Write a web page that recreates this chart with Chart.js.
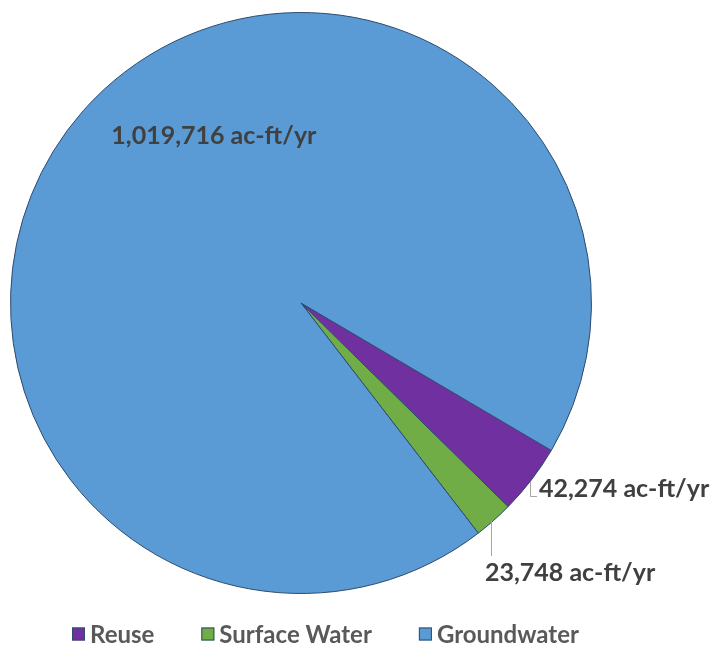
<!DOCTYPE html>
<html>
<head>
<meta charset="utf-8">
<script src="https://cdn.jsdelivr.net/npm/chart.js@4"></script>
<style>
  html, body { margin: 0; padding: 0; background: #ffffff; }
  canvas { display: block; }
</style>
</head>
<body>
<canvas id="chart" width="714" height="647"></canvas>
<script>
// Water supply by source (acre-feet per year)
const categories = ['Reuse', 'Surface Water', 'Groundwater'];
const supplyAcFtYr = [42274, 23748, 1019716];
const sliceColors = ['#7030A0', '#70AD47', '#5B9BD5'];
const sliceBorder = '#2E4A6E';

const fmt = v => String(v).replace(/\B(?=(\d{3})+(?!\d))/g, ',') + ' ac-ft/yr';

const LABEL_FONT = 'bold 25px Lato, "Open Sans", sans-serif';
const LEGEND_FONT = 'bold 24px Lato, "Open Sans", sans-serif';

// Value labels: small slices get a leader line from the rim, the big one sits inside.
const valueLabelPlugin = {
  id: 'valueLabels',
  afterDatasetsDraw(chart) {
    const ctx = chart.ctx;
    const arcs = chart.getDatasetMeta(0).data;
    ctx.save();
    ctx.font = LABEL_FONT;
    ctx.fillStyle = '#404040';
    ctx.textBaseline = 'middle';
    ctx.textAlign = 'left';
    ctx.strokeStyle = '#A6A6A6';
    ctx.lineWidth = 1;
    arcs.forEach((arc, i) => {
      const { x, y, startAngle, endAngle, outerRadius } = arc.getProps(['x', 'y', 'startAngle', 'endAngle', 'outerRadius'], true);
      const mid = (startAngle + endAngle) / 2;
      const px = Math.round(x + outerRadius * Math.cos(mid));
      const py = Math.round(y + outerRadius * Math.sin(mid));
      const text = fmt(supplyAcFtYr[i]);
      if (i === 0) {
        ctx.beginPath();
        ctx.moveTo(px - 0.5, py + 2);
        ctx.lineTo(px - 0.5, py + 16.5);
        ctx.lineTo(px + 6, py + 16.5);
        ctx.stroke();
        ctx.fillText(text, px + 8, py + 9);
      } else if (i === 1) {
        ctx.beginPath();
        ctx.moveTo(px - 2.5, py + 1);
        ctx.lineTo(px - 2.5, py + 36);
        ctx.stroke();
        ctx.fillText(text, px - 9, py + 53);
      } else {
        ctx.fillText(text, x - 0.653 * outerRadius, y - 0.575 * outerRadius);
      }
    });
    ctx.restore();
  }
};

// Legend row under the pie
const legendRowPlugin = {
  id: 'legendRow',
  afterDraw(chart) {
    const ctx = chart.ctx;
    const box = 13, gap = 5, spacing = 47, rowY = 634, rowCenter = 325;
    ctx.save();
    ctx.font = LEGEND_FONT;
    ctx.textBaseline = 'middle';
    ctx.textAlign = 'left';
    const widths = categories.map(c => ctx.measureText(c).width);
    const total = widths.reduce((a, w) => a + box + gap + w, 0) + spacing * (categories.length - 1);
    let xPos = Math.round(rowCenter - total / 2);
    categories.forEach((c, i) => {
      ctx.fillStyle = sliceColors[i];
      ctx.fillRect(xPos, rowY - box / 2, box, box);
      ctx.strokeStyle = sliceBorder;
      ctx.lineWidth = 1;
      ctx.strokeRect(xPos + 0.5, rowY - box / 2 + 0.5, box - 1, box - 1);
      ctx.fillStyle = '#595959';
      ctx.fillText(c, xPos + box + gap, rowY + 1);
      xPos += box + gap + widths[i] + spacing;
    });
    ctx.restore();
  }
};

new Chart(document.getElementById('chart'), {
  type: 'pie',
  data: {
    labels: categories,
    datasets: [{
      data: supplyAcFtYr,
      backgroundColor: sliceColors,
      borderColor: sliceBorder,
      borderWidth: 1
    }]
  },
  options: {
    responsive: false,
    devicePixelRatio: 1,
    animation: false,
    rotation: 120.5,
    layout: { padding: { left: 10, right: 122, top: 12, bottom: 53 } },
    plugins: {
      legend: { display: false },
      tooltip: { enabled: false }
    }
  },
  plugins: [valueLabelPlugin, legendRowPlugin]
});
</script>
</body>
</html>
